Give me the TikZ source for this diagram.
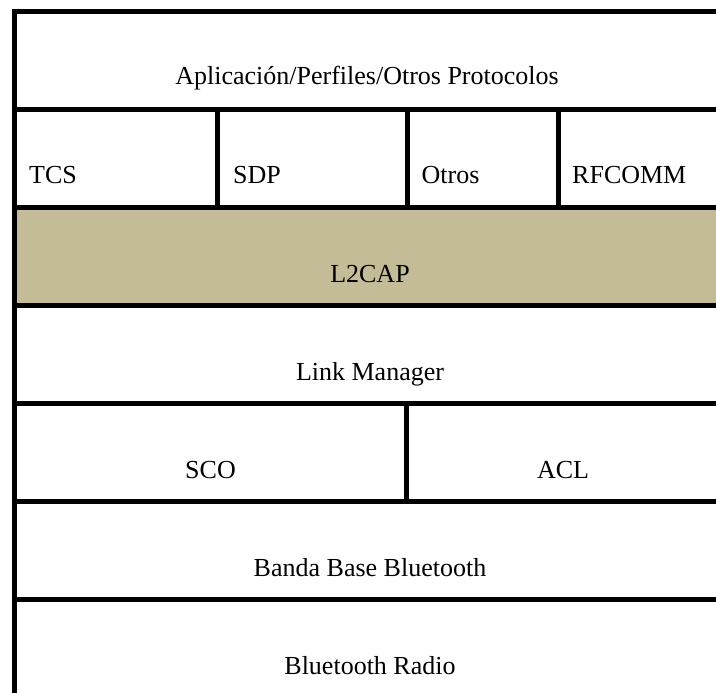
\documentclass[tikz,border=0pt]{standalone}
\usepackage{fontspec}
\setmainfont{Liberation Serif}
\definecolor{tanfill}{HTML}{C4BC96}
\begin{document}
\begin{tikzpicture}[x=1pt,y=-1pt,
  rule/.style={line width=5pt,line cap=butt},
  lbl/.style={anchor=base,inner sep=0pt,font=\fontsize{26}{30}\selectfont},
  lbll/.style={anchor=base west,inner sep=0pt,font=\fontsize{26}{30}\selectfont}]
\useasboundingbox (0,0) rectangle (716,693);
\fill[white] (0,0) rectangle (716,693);
% L2CAP band
\fill[tanfill] (17,210) rectangle (716,302.7);
% horizontal rules
\foreach \y in {11.5,109.5,207.5,305,403.5,501,599}
  \draw[rule] (12,\y) -- (716,\y);
% left rule
\draw[rule] (14.5,9) -- (14.5,693);
% protocol dividers
\draw[rule] (217.5,109.5) -- (217.5,207.5);
\draw[rule] (407,109.5) -- (407,207.5);
\draw[rule] (558,109.5) -- (558,207.5);
% SCO/ACL divider
\draw[rule] (406.5,403.5) -- (406.5,501);
% texts
\node[lbl] (app) at (367,84.3) {Aplicación/Perfiles/Otros Protocolos};
\node[lbll] (tcs) at (29,183.3) {TCS};
\node[lbll] (sdp) at (233,183.3) {SDP};
\node[lbll] (otros) at (421.5,183.3) {Otros};
\node[lbll] (rfcomm) at (572,183.3) {RFCOMM};
\node[lbl] (l2cap) at (370,282.3) {L2CAP};
\node[lbl] (lm) at (370,380) {Link Manager};
\node[lbl] (sco) at (210.5,478) {SCO};
\node[lbl] (acl) at (563,478) {ACL};
\node[lbl] (bb) at (370,576) {Banda Base Bluetooth};
\node[lbl] (radio) at (370,674) {Bluetooth Radio};
\end{tikzpicture}
\end{document}
